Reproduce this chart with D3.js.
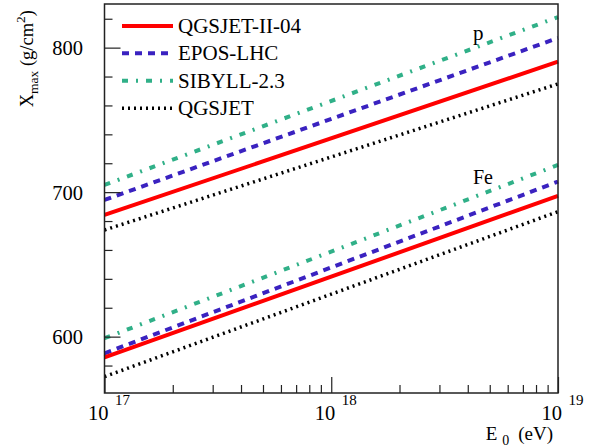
<!DOCTYPE html>
<html>
<head>
<meta charset="utf-8">
<script src="https://cdn.jsdelivr.net/npm/d3@7/dist/d3.min.js"></script>
<style>
  html, body { margin: 0; padding: 0; background: #fff; }
</style>
</head>
<body>
<svg id="chart" width="589" height="447"></svg>
<script>
// ---- data ----
const energies = [1e17, 1e19];
const models = ["QGSJET-II-04", "EPOS-LHC", "SIBYLL-2.3", "QGSJET"];
const protonQGSJETII04 = [684.2, 790.3];
const protonEPOSLHC    = [694.6, 806.7];
const protonSIBYLL23   = [705.0, 821.2];
const protonQGSJET     = [673.8, 774.9];
const ironQGSJETII04   = [585.7, 697.4];
const ironEPOSLHC      = [588.5, 707.3];
const ironSIBYLL23     = [598.9, 718.8];
const ironQGSJET       = [572.3, 686.5];
const yMajorTicks = [600, 700, 800];
const yMinorTicks = [580, 620, 640, 660, 680, 720, 740, 760, 780, 820];
const xMajorTicks = [1e17, 1e18, 1e19];
const xTickExponents = ["17", "18", "19"];
const primaryLabels = ["p", "Fe"];

const FONT = "'Liberation Serif', 'Times New Roman', Times, 'DejaVu Serif', serif";

// ---- styles ----
const styles = {
  "QGSJET-II-04": { color: "#ff0000", width: 4, dash: null },
  "EPOS-LHC":     { color: "#3a22c0", width: 4, dash: "7,6" },
  "SIBYLL-2.3":   { color: "#30b088", width: 4, dash: "6,8,2,8" },
  "QGSJET":       { color: "#000000", width: 3.5, dash: "2,4" }
};

const series = [
  { model: "SIBYLL-2.3", values: protonSIBYLL23 },
  { model: "EPOS-LHC", values: protonEPOSLHC },
  { model: "QGSJET-II-04", values: protonQGSJETII04 },
  { model: "QGSJET", values: protonQGSJET },
  { model: "SIBYLL-2.3", values: ironSIBYLL23 },
  { model: "EPOS-LHC", values: ironEPOSLHC },
  { model: "QGSJET-II-04", values: ironQGSJETII04 },
  { model: "QGSJET", values: ironQGSJET }
];

const L = 104.5, R = 558, T = 4, B = 393;
const svg = d3.select("#chart");

const x = d3.scaleLog().domain([1e17, 1e19]).range([L, R]);
const y = d3.scaleLinear().domain([561, 830.2]).range([B, T]);

// ---- curves ----
const line = d3.line().x(d => x(d[0])).y(d => y(d[1]));
const gLines = svg.append("g");
series.forEach(s => {
  const st = styles[s.model];
  gLines.append("path")
    .attr("d", line(energies.map((e, i) => [e, s.values[i]])))
    .attr("fill", "none")
    .attr("stroke", st.color)
    .attr("stroke-width", st.width)
    .attr("stroke-dasharray", st.dash);
});

// ---- axes (ticks inside) ----
const gy1 = svg.append("g").attr("transform", `translate(${L},0)`)
  .call(d3.axisLeft(y).tickValues(yMinorTicks).tickSize(-8).tickFormat(""));
const gy2 = svg.append("g").attr("transform", `translate(${L},0)`)
  .call(d3.axisLeft(y).tickValues(yMajorTicks).tickSize(-16).tickFormat(""));
const xMinor = x.ticks().filter(v => !xMajorTicks.some(m => Math.abs(m - v) / m < 1e-6));
const gx1 = svg.append("g").attr("transform", `translate(0,${B})`)
  .call(d3.axisBottom(x).tickValues(xMinor).tickSize(-8).tickFormat(""));
const gx2 = svg.append("g").attr("transform", `translate(0,${B})`)
  .call(d3.axisBottom(x).tickValues(xMajorTicks).tickSize(-16).tickFormat(""));
[gy1, gy2, gx1, gx2].forEach(g => {
  g.select(".domain").remove();
  g.selectAll("text").remove();
  g.selectAll("line").attr("stroke", "#222").attr("stroke-width", 1.2);
});

// frame
svg.append("rect").attr("x", L).attr("y", T).attr("width", R - L).attr("height", B - T)
  .attr("fill", "none").attr("stroke", "#222").attr("stroke-width", 1.5);

function txt(sel) { return sel.append("text").style("font-family", FONT).attr("fill", "#000"); }

// y tick labels
yMajorTicks.forEach(v => {
  txt(svg).attr("x", 83).attr("y", y(v)).attr("dy", "0.36em")
    .attr("text-anchor", "end").attr("font-size", 20.5).text(v);
});

// x tick labels 10^n
xMajorTicks.forEach((v, i) => {
  const px = x(v);
  txt(svg).attr("x", px + 4).attr("y", 420).attr("text-anchor", "end")
    .attr("font-size", 20.5).text("10");
  txt(svg).attr("x", px + 10.5).attr("y", 405).attr("text-anchor", "start")
    .attr("font-size", 15).text(xTickExponents[i]);
});

// x axis title
const xt = txt(svg).attr("x", 553).attr("y", 439.5).attr("text-anchor", "end")
  .attr("font-size", 19);
xt.append("tspan").text("E ");
xt.append("tspan").attr("font-size", 14).attr("dy", 5).text("0");
xt.append("tspan").attr("dy", -5).attr("dx", 9).text("(eV)");

// y axis title
const yt = txt(svg).attr("transform", "translate(33,10) rotate(-90)")
  .attr("text-anchor", "end").attr("font-size", 18.5);
yt.append("tspan").text("X");
yt.append("tspan").attr("font-size", 13.5).attr("dy", 5).text("max");
yt.append("tspan").attr("dy", -5).text(" (g/cm");
yt.append("tspan").attr("font-size", 13.5).attr("dy", -8).text("2");
yt.append("tspan").attr("dy", 8).text(")");

// legend
const legendRowsY = [26, 53.3, 80.7, 108.3];
models.forEach((m, i) => {
  const st = styles[m];
  svg.append("line").attr("x1", 122).attr("x2", 173)
    .attr("y1", legendRowsY[i]).attr("y2", legendRowsY[i])
    .attr("stroke", st.color).attr("stroke-width", st.width)
    .attr("stroke-dasharray", st.dash);
  txt(svg).attr("x", 178).attr("y", legendRowsY[i]).attr("dy", "0.34em")
    .attr("font-size", 21).text(m);
});

// primary labels
txt(svg).attr("x", 473).attr("y", 40).attr("font-size", 21).text(primaryLabels[0]);
txt(svg).attr("x", 473).attr("y", 184).attr("font-size", 20).text(primaryLabels[1]);
</script>
</body>
</html>
